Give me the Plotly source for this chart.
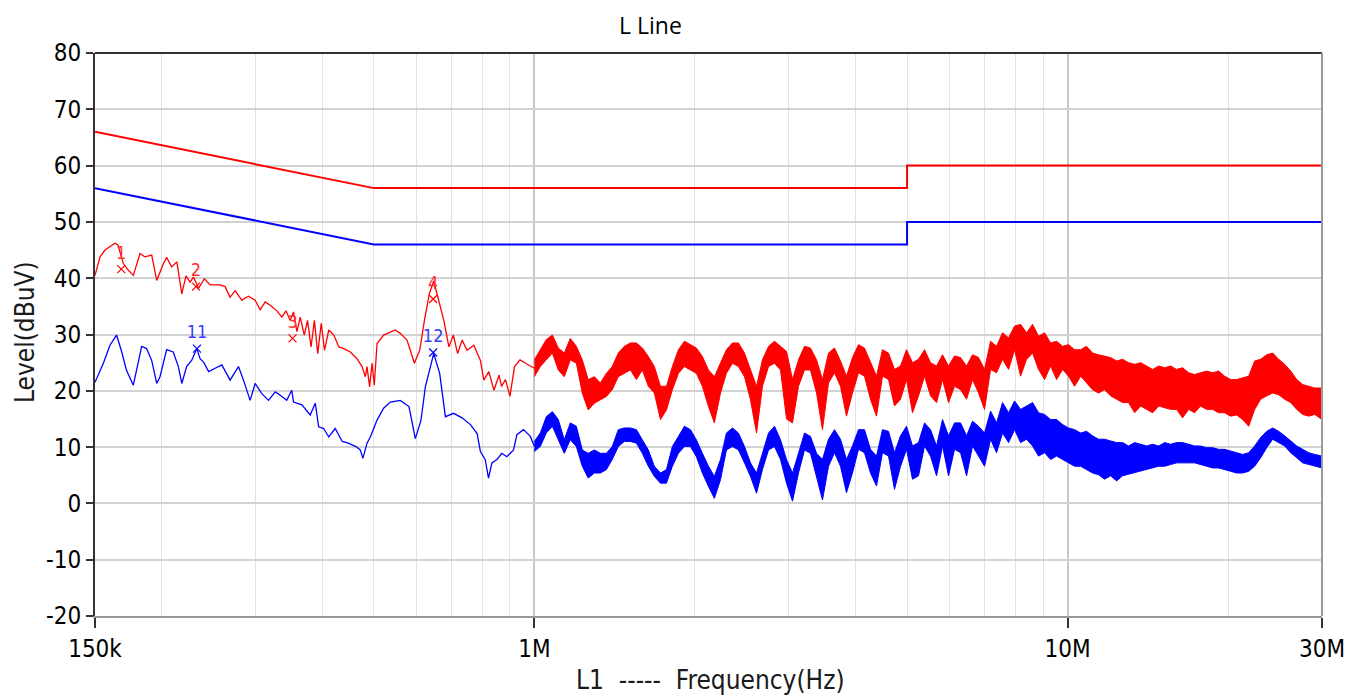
import plotly.graph_objects as go

# ---------------- data ----------------
# limit lines (MHz, dBuV)
LIMIT_F = [0.15, 0.5, 5.0, 5.0, 30.0]
QP_LIMIT = [66, 56, 56, 60, 60]
AV_LIMIT = [56, 46, 46, 50, 50]

# low-frequency part of the red (peak) trace
RED_LO_F = [0.150, 0.1533, 0.1566, 0.1635, 0.1656, 0.1695, 0.1732, 0.177, 0.1822, 0.186,
            0.1916, 0.1958, 0.2016, 0.2044, 0.2089, 0.2136, 0.2182, 0.2222, 0.2262, 0.2295,
            0.2346, 0.2405, 0.2466, 0.2575, 0.263, 0.2688, 0.2747, 0.2827, 0.291, 0.2995,
            0.3061, 0.3128, 0.3196, 0.329, 0.3361, 0.3421, 0.3485, 0.3535, 0.3587, 0.3639,
            0.3703, 0.3756, 0.3813, 0.3869, 0.3925, 0.3984, 0.4041, 0.4116, 0.4207, 0.4299,
            0.4394, 0.4517, 0.465, 0.4752, 0.482, 0.4855, 0.491, 0.4962, 0.501, 0.507,
            0.5216, 0.5369, 0.5486, 0.5606, 0.577, 0.5957, 0.6095, 0.6221, 0.6356, 0.6476,
            0.659, 0.6764, 0.6915, 0.705, 0.718, 0.732, 0.748, 0.770, 0.7923, 0.804,
            0.8215, 0.840, 0.8586, 0.868, 0.883, 0.900, 0.918, 0.940, 0.963, 0.986, 1.000]
RED_LO_L = [40.5, 43.8, 45.0, 46.2, 45.9, 42.6, 41.4, 40.5, 44.4, 43.8,
            44.1, 39.6, 42.6, 43.7, 42.0, 42.9, 37.2, 40.4, 39.3, 40.2,
            38.2, 39.9, 38.8, 38.8, 38.5, 36.6, 37.8, 36.1, 36.8, 36.1,
            34.4, 35.8, 35.2, 34.2, 33.1, 34.2, 32.5, 34.0, 30.5, 33.1,
            29.9, 32.5, 27.8, 32.5, 26.6, 32.0, 27.2, 30.8, 29.9, 27.8,
            27.5, 26.9, 25.7, 24.3, 22.5, 24.3, 20.7, 24.9, 21.0, 28.4,
            29.9, 30.5, 30.8, 30.2, 29.0, 24.9, 27.2, 32.5, 37.3, 39.5,
            36.7, 32.5, 27.8, 29.9, 26.6, 29.0, 27.2, 28.1, 25.4, 21.9,
            23.4, 20.1, 22.8, 20.8, 22.0, 19.0, 24.3, 25.5, 24.9, 24.3, 24.0]

# low-frequency part of the blue (average) trace
BLUE_LO_F = [0.150, 0.1555, 0.160, 0.1646, 0.168, 0.1718, 0.177, 0.1835, 0.1874, 0.1916,
             0.1958, 0.1986, 0.2044, 0.2103, 0.215, 0.2182, 0.2228, 0.2277, 0.2328, 0.2361,
             0.2397, 0.245, 0.252, 0.2594, 0.2688, 0.2787, 0.2848, 0.2931, 0.2995, 0.3083,
             0.3173, 0.3266, 0.3337, 0.3433, 0.3508, 0.3535, 0.3665, 0.3799, 0.3883, 0.394,
             0.4026, 0.4116, 0.4232, 0.4363, 0.4479, 0.4627, 0.4716, 0.477, 0.4855, 0.4925,
             0.507, 0.5216, 0.5369, 0.5606, 0.582, 0.5982, 0.613, 0.6246, 0.6476, 0.6645,
             0.6811, 0.7055, 0.732, 0.7588, 0.781, 0.7923, 0.8087, 0.8204, 0.8325, 0.8508,
             0.8691, 0.888, 0.914, 0.9275, 0.954, 0.983, 1.000]
BLUE_LO_L = [21.5, 24.9, 28.1, 29.9, 27.2, 23.7, 21.0, 27.9, 27.5, 25.4,
             21.3, 22.5, 27.3, 26.9, 24.3, 21.3, 24.3, 25.4, 27.5, 25.7,
             25.1, 23.4, 24.0, 24.6, 21.9, 24.3, 21.9, 18.3, 21.3, 19.5,
             18.3, 19.8, 19.2, 18.3, 20.1, 18.0, 17.5, 15.7, 17.8, 13.6,
             13.3, 11.8, 13.3, 11.0, 10.7, 10.1, 9.5, 8.0, 10.7, 11.8,
             14.8, 16.9, 18.0, 18.3, 17.2, 11.5, 14.8, 20.7, 26.6, 23.1,
             15.4, 16.0, 15.2, 14.0, 12.4, 9.2, 7.8, 4.5, 7.2, 7.8,
             8.9, 8.3, 9.5, 12.2, 13.1, 11.9, 10.1]

# high-frequency part: sweep frequencies and band envelopes (top / bottom)
BAND_F = [1.000, 1.026, 1.053, 1.081, 1.109, 1.138, 1.168, 1.199, 1.230, 1.262,
          1.296, 1.330, 1.365, 1.400, 1.437, 1.475, 1.514, 1.554, 1.594, 1.636,
          1.679, 1.724, 1.769, 1.815, 1.863, 1.912, 1.962, 2.013, 2.066, 2.121,
          2.176, 2.234, 2.292, 2.353, 2.414, 2.478, 2.543, 2.610, 2.678, 2.749,
          2.821, 2.895, 2.971, 3.049, 3.129, 3.211, 3.295, 3.382, 3.470, 3.562,
          3.655, 3.751, 3.849, 3.950, 4.054, 4.160, 4.270, 4.382, 4.497, 4.615,
          4.736, 4.861, 4.988, 5.119, 5.254, 5.392, 5.533, 5.679, 5.828, 5.981,
          6.138, 6.299, 6.465, 6.634, 6.809, 6.987, 7.171, 7.359, 7.552, 7.751,
          7.954, 8.163, 8.377, 8.597, 8.823, 9.055, 9.293, 9.537, 9.787, 10.04,
          10.31, 10.58, 10.85, 11.14, 11.43, 11.73, 12.04, 12.36, 12.68, 13.01,
          13.36, 13.71, 14.07, 14.44, 14.82, 15.21, 15.60, 16.01, 16.43, 16.87,
          17.31, 17.76, 18.23, 18.71, 19.20, 19.70, 20.22, 20.75, 21.30, 21.86,
          22.43, 23.02, 23.63, 24.25, 24.88, 25.53, 26.21, 26.90, 27.60, 28.33,
          29.07, 30.00]
RED_TOP = [25.5, 27.3, 29.1, 29.9, 27.6, 26.7, 29.3, 27.9, 25.5, 22.0,
           22.5, 21.4, 23.1, 24.3, 26.7, 27.9, 28.5, 28.5, 27.6, 26.1,
           24.3, 20.8, 20.8, 24.3, 27.3, 28.8, 28.2, 27.6, 26.1, 23.7,
           22.5, 24.9, 27.3, 28.5, 28.5, 26.7, 23.7, 20.8, 25.5, 27.9,
           28.8, 27.9, 27.0, 22.0, 25.5, 27.9, 27.6, 25.5, 22.0, 26.7,
           27.6, 25.3, 22.6, 25.9, 28.2, 27.6, 25.0, 22.6, 27.3, 26.7,
           23.8, 24.4, 27.3, 25.0, 25.6, 27.3, 25.0, 24.4, 26.4, 24.4,
           26.2, 25.9, 24.4, 26.4, 25.9, 23.8, 28.8, 27.9, 30.3, 29.4,
           31.5, 31.8, 30.3, 31.8, 29.7, 30.3, 28.5, 28.8, 27.9, 28.2,
           27.3, 27.3, 27.9, 26.7, 26.4, 26.2, 25.9, 25.3, 25.6, 25.0,
           24.7, 25.0, 24.4, 23.8, 24.4, 24.1, 24.4, 23.8, 24.1, 23.2,
           22.9, 23.2, 23.5, 23.2, 23.5, 22.6, 22.0, 22.0, 22.3, 22.6,
           25.3, 25.6, 26.4, 26.7, 25.6, 24.7, 23.5, 22.0, 21.1, 20.8,
           20.5, 20.5]
RED_BOTTOM = [22.5, 24.3, 25.5, 26.7, 23.7, 22.5, 25.5, 24.9, 19.6, 16.6,
              17.8, 18.4, 19.0, 20.2, 22.5, 23.1, 23.7, 22.0, 23.7, 20.8,
              19.6, 14.9, 16.6, 20.2, 23.1, 24.3, 23.7, 23.1, 20.8, 17.2,
              14.3, 19.6, 23.1, 24.9, 24.3, 22.5, 18.4, 12.5, 20.8, 24.3,
              24.9, 23.7, 15.0, 14.3, 20.8, 23.7, 23.7, 19.6, 13.1, 21.4,
              23.2, 20.8, 15.5, 19.6, 23.2, 22.6, 18.5, 15.5, 22.6, 22.0,
              17.3, 18.5, 22.0, 16.1, 19.1, 22.6, 19.1, 17.9, 22.0, 17.9,
              20.8, 20.2, 18.5, 22.0, 19.6, 16.7, 23.8, 23.2, 25.6, 23.8,
              27.3, 22.6, 25.6, 26.7, 23.8, 22.0, 24.4, 22.0, 23.8, 22.6,
              20.8, 22.6, 21.4, 20.2, 19.6, 20.2, 19.1, 18.5, 17.9, 17.9,
              16.1, 17.3, 16.7, 16.1, 17.3, 17.0, 16.7, 16.7, 15.2, 16.7,
              16.1, 17.3, 16.7, 16.7, 16.1, 16.1, 15.5, 15.7, 14.9, 13.7,
              16.7, 18.5, 19.1, 19.6, 19.3, 18.5, 17.9, 16.7, 15.8, 15.5,
              15.8, 14.9]
BLUE_TOP = [11.0, 12.5, 15.4, 16.3, 14.9, 11.3, 14.3, 13.7, 9.5, 8.9,
            9.5, 8.9, 8.9, 10.1, 13.1, 13.4, 13.4, 13.1, 11.3, 9.5,
            6.6, 5.4, 6.0, 10.1, 11.9, 13.7, 13.1, 11.3, 8.9, 6.6,
            4.8, 7.8, 12.5, 13.4, 12.5, 10.1, 7.2, 5.4, 8.9, 12.5,
            13.7, 11.3, 7.8, 5.4, 8.9, 12.5, 11.9, 8.9, 7.8, 11.4,
            13.1, 11.4, 7.8, 10.2, 13.1, 13.1, 9.6, 8.4, 13.1, 12.8,
            9.0, 12.0, 13.7, 10.2, 10.8, 14.3, 13.1, 10.2, 14.9, 12.0,
            14.3, 14.3, 12.0, 14.6, 13.7, 12.5, 16.4, 14.3, 17.9, 16.1,
            18.2, 16.7, 17.3, 17.9, 16.1, 15.8, 14.9, 14.9, 14.0, 13.4,
            13.1, 12.5, 12.8, 12.0, 11.4, 11.4, 11.1, 10.8, 10.8, 10.2,
            10.8, 10.5, 10.2, 10.5, 10.2, 10.8, 10.5, 10.8, 10.8, 10.5,
            10.2, 10.2, 9.9, 9.9, 9.6, 9.6, 9.3, 9.0, 8.7, 9.0,
            10.2, 11.7, 12.8, 13.4, 12.8, 12.0, 11.1, 10.2, 9.6, 9.0,
            8.7, 8.4]
BLUE_BOTTOM = [9.2, 10.1, 12.5, 13.7, 11.3, 8.9, 11.3, 10.1, 6.6, 4.5,
               5.4, 5.4, 6.0, 7.8, 10.1, 11.0, 11.0, 10.7, 8.9, 6.6,
               4.8, 3.6, 3.6, 6.6, 8.9, 10.1, 10.1, 8.3, 5.4, 3.0,
               0.9, 4.2, 9.5, 10.1, 9.5, 7.2, 4.8, 1.8, 6.0, 9.5,
               10.1, 7.8, 3.6, 0.4, 5.4, 9.5, 8.9, 4.8, 0.6, 6.6,
               9.0, 6.6, 1.9, 5.4, 9.6, 9.0, 5.4, 3.1, 9.0, 8.4,
               2.5, 6.6, 9.6, 4.3, 4.9, 10.2, 8.4, 4.9, 10.2, 4.9,
               9.6, 9.0, 4.9, 10.2, 8.4, 6.6, 11.4, 9.0, 12.5, 10.8,
               13.1, 10.8, 11.4, 10.2, 8.4, 9.0, 7.8, 8.4, 7.8, 7.2,
               6.6, 6.6, 6.0, 5.4, 5.1, 4.3, 4.9, 4.0, 4.9, 5.1,
               5.4, 5.7, 6.0, 6.3, 6.6, 6.6, 6.9, 7.2, 7.2, 7.2,
               7.2, 7.0, 6.6, 6.3, 6.3, 6.0, 5.7, 5.4, 5.4, 5.7,
               6.6, 8.1, 9.9, 11.4, 10.8, 10.2, 9.0, 8.1, 7.2, 6.9,
               6.6, 6.3]

# markers
MK_RED_F = [0.168, 0.232, 0.352, 0.646]
MK_RED_L = [41.6, 38.5, 29.3, 36.3]
MK_RED_T = ["1", "2", "3", "4"]
MK_BLUE_F = [0.233, 0.646]
MK_BLUE_L = [27.5, 26.8]
MK_BLUE_T = ["11", "12"]

X_TICKS = [0.15, 1, 10, 30]
X_TICK_TEXT = ["150k", "1M", "10M", "30M"]
X_MINOR = [0.2, 0.3, 0.4, 0.5, 0.6, 0.7, 0.8, 0.9, 2, 3, 4, 5, 6, 7, 8, 9, 20]
Y_TICKS = [-20, -10, 0, 10, 20, 30, 40, 50, 60, 70, 80]
Y_TICK_TEXT = ["-20", "-10", "0", "10", "20", "30", "40", "50", "60", "70", "80"]

RED = "#ff0000"
BLUE = "#0000ff"
FONT = "DejaVu Sans Condensed, DejaVu Sans"
TICK_FONT = dict(family=FONT, size=24, color="#000000")

# page body has an 8px margin: figure is sized/offset so the plot lands where the reference has it
W, H = 1354, 689
ML, MR, MT, MB = 87, 40, 45, 81
PW, PH = W - ML - MR, H - MT - MB

fig = go.Figure()

# limit lines
fig.add_trace(go.Scatter(x=LIMIT_F, y=QP_LIMIT, mode="lines",
                         line=dict(color=RED, width=2), hoverinfo="skip"))
fig.add_trace(go.Scatter(x=LIMIT_F, y=AV_LIMIT, mode="lines",
                         line=dict(color=BLUE, width=2), hoverinfo="skip"))

# bands: filled envelope between top and bottom readings
for top, bot, col in [(RED_TOP, RED_BOTTOM, RED), (BLUE_TOP, BLUE_BOTTOM, BLUE)]:
    fig.add_trace(go.Scatter(x=BAND_F + BAND_F[::-1], y=top + bot[::-1],
                             mode="lines", fill="toself", fillcolor=col,
                             line=dict(color=col, width=1), hoverinfo="skip"))

# low frequency traces
fig.add_trace(go.Scatter(x=RED_LO_F, y=RED_LO_L, mode="lines",
                         line=dict(color=RED, width=1.3), hoverinfo="skip"))
fig.add_trace(go.Scatter(x=BLUE_LO_F, y=BLUE_LO_L, mode="lines",
                         line=dict(color=BLUE, width=1.3), hoverinfo="skip"))

# markers
fig.add_trace(go.Scatter(x=MK_RED_F, y=MK_RED_L, mode="markers+text", text=MK_RED_T,
                         textposition="top center",
                         textfont=dict(family=FONT, size=18, color="#ff3030"),
                         marker=dict(symbol="x-thin", size=8, line=dict(color=RED, width=1.2)),
                         hoverinfo="skip"))
fig.add_trace(go.Scatter(x=MK_BLUE_F, y=MK_BLUE_L, mode="markers+text", text=MK_BLUE_T,
                         textposition="top center",
                         textfont=dict(family=FONT, size=18, color="#3a3aff"),
                         marker=dict(symbol="x-thin", size=8, line=dict(color=BLUE, width=1.2)),
                         hoverinfo="skip"))

fig.update_layout(
    width=W, height=H,
    margin=dict(l=ML, r=MR, t=MT, b=MB),
    paper_bgcolor="white", plot_bgcolor="white",
    showlegend=False,
)

fig.update_xaxes(
    type="log", range=[-0.823909, 1.477121],
    tickvals=X_TICKS, ticktext=X_TICK_TEXT, tickfont=TICK_FONT,
    ticks="outside", ticklen=10, tickcolor="#333333", tickwidth=1.5,
    showgrid=True, gridcolor="#c8c8c8", gridwidth=1.5,
    minor=dict(tickvals=X_MINOR, showgrid=True, gridcolor="#e2e2e2", gridwidth=1.2, ticks=""),
    showline=True, linecolor="#9a9a9a", linewidth=2, mirror=False,
    zeroline=False,
)
fig.update_yaxes(
    range=[-20, 80], tickvals=Y_TICKS, ticktext=Y_TICK_TEXT, tickfont=TICK_FONT,
    ticks="outside", ticklen=7, tickcolor="#333333", tickwidth=1.5,
    showgrid=True, gridcolor="#d2d2d2", gridwidth=1.8,
    showline=True, linecolor="#333333", linewidth=2, mirror=False,
    zeroline=False,
)

# frame: top dark line, right grey line
fig.add_shape(type="line", xref="paper", yref="paper", x0=0, x1=1, y0=1, y1=1,
              line=dict(color="#333333", width=2))
fig.add_shape(type="line", xref="paper", yref="paper", x0=1, x1=1, y0=0, y1=1,
              line=dict(color="#9a9a9a", width=2))

# chart title and axis titles
fig.add_annotation(text="L Line", xref="paper", yref="paper", x=(642 - ML) / PW,
                   y=(PH + MT - 17) / PH, showarrow=False, xanchor="center", yanchor="middle",
                   font=dict(family="Open Sans, Noto Sans", size=23, color="#000000"))
fig.add_annotation(text="Level(dBuV)", xref="paper", yref="paper", x=(17 - ML) / PW,
                   y=(PH + MT - 324) / PH, textangle=-90, showarrow=False,
                   xanchor="center", yanchor="middle",
                   font=dict(family=FONT, size=26, color="#1a1a1a"))
fig.add_annotation(text="L1  -----  Frequency(Hz)", xref="paper", yref="paper", x=(702 - ML) / PW,
                   y=(PH + MT - 672) / PH, showarrow=False, xanchor="center", yanchor="middle",
                   font=dict(family=FONT, size=26, color="#1a1a1a"))

fig.write_html("out.html")
